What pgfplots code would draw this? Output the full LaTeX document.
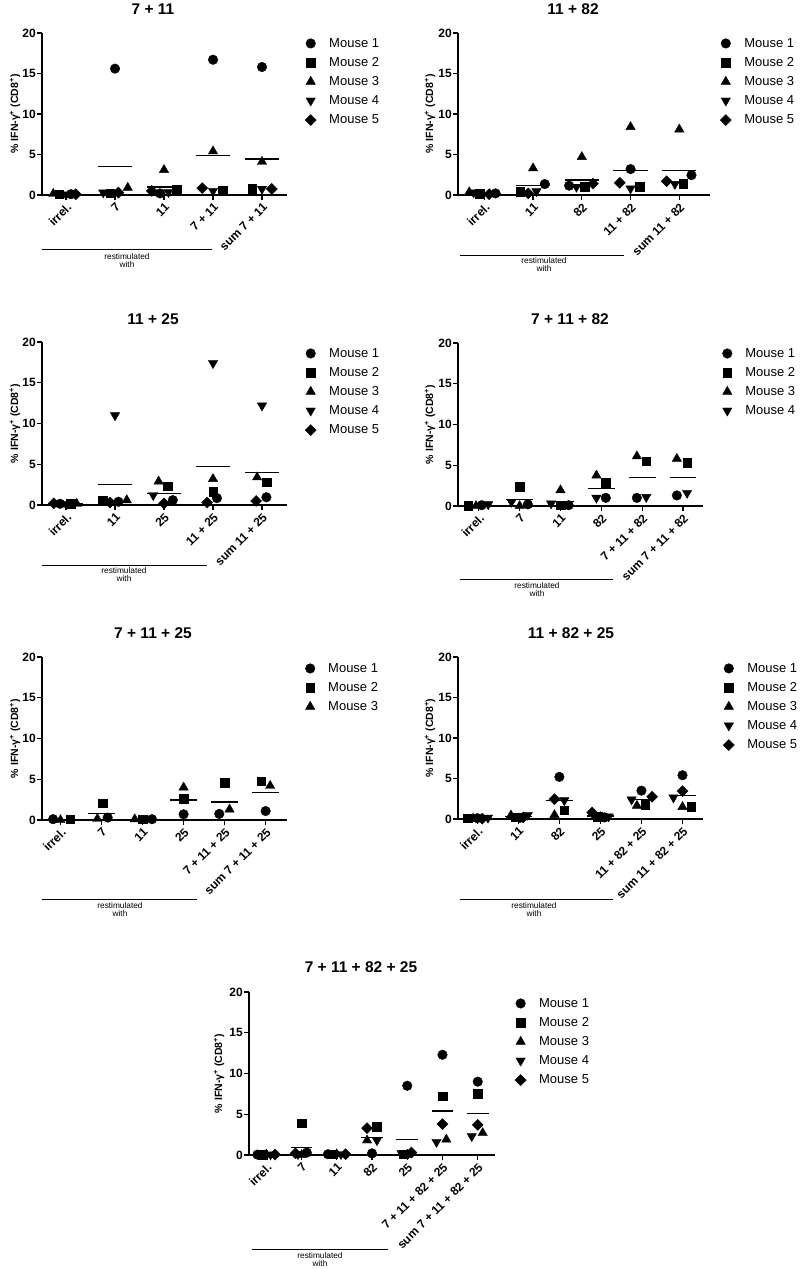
\documentclass[border=0pt]{standalone}
\usepackage{fontspec}
\setmainfont{Liberation Sans}
\usepackage{pgfplots}
\pgfplotsset{compat=1.18}
\newcommand{\tickfont}{\fontsize{12}{12}\selectfont\bfseries}
\newcommand{\titlefont}{\fontsize{15.5}{16}\selectfont\bfseries}
\newcommand{\ylabfont}{\fontsize{10.5}{11}\selectfont\bfseries}
\newcommand{\restfont}{\fontsize{8.3}{8.3}\selectfont}
\newcommand{\ylab}{\% IFN-γ\textsuperscript{+} (CD8\textsuperscript{+})}
\pgfplotsset{
  panel/.style={
    scale only axis, anchor=south west, clip=false,
    ymin=0, ymax=20, ytick={0,5,10,15,20},
    axis x line*=bottom, axis y line*=left,
    axis line style={line width=1.6pt},
    every tick/.style={black, line width=1.3pt},
    major tick length=5pt, tick align=outside,
    /pgf/number format/assume math mode=true,
    tick label style={font=\tickfont},
    yticklabel style={inner xsep=1pt},
    xticklabel style={rotate=45, anchor=north east, inner sep=1.5pt},
    legend style={draw=none, fill=none, font=\fontsize{13}{13}\selectfont,
      anchor=north west, inner sep=0pt, row sep=8.5pt,
      nodes={inner sep=0pt},
      /tikz/every odd column/.append style={column sep=13pt}},
    legend cell align=left,
    legend image code/.code={\path[draw=none,fill=none] (-5pt,-5pt) rectangle (5pt,5pt);
      \draw[##1] plot coordinates {(0pt,0pt)};},
  },
  m1/.style={only marks, black, mark=*, mark size=4.8pt},
  m2/.style={only marks, black, mark=square*, mark size=4.3pt},
  m3/.style={only marks, black, mark=triangle*, mark size=5.4pt},
  m4/.style={only marks, black, mark=triangle*, mark size=5.4pt, mark options={rotate=180}},
  m5/.style={only marks, black, mark=square*, mark size=3.9pt, mark options={rotate=45}},
  mean/.style={black, line width=1.2pt, mark=none, unbounded coords=jump, forget plot},
}
\begin{document}
\begin{tikzpicture}
\path[use as bounding box] (0pt,0pt) rectangle (800pt,-1269pt);

% ---------- Panel 1: 7 + 11
\node[font=\titlefont] at (153pt,-9pt) {7 + 11};
\node[font=\ylabfont, rotate=90] at (15pt,-114pt) {\ylab};
\begin{axis}[panel, at={(42pt,-195pt)}, width=245pt, height=162pt,
  xmin=-0.49, xmax=4.51, xtick={0,...,4},
  xticklabels={irrel., 7, 11, 7 + 11, sum 7 + 11},
  legend style={at={(axis description cs:1.0735,0.969)}}]
\addplot[m1] coordinates {(0.10,0.1) (1.00,15.6) (1.92,0.2) (3.00,16.7) (4.00,15.8)};
\addplot[m2] coordinates {(-0.14,0.1) (0.90,0.2) (2.26,0.65) (3.20,0.55) (3.80,0.8)};
\addplot[m3] coordinates {(-0.26,0.15) (1.26,0.9) (2.00,3.1) (3.00,5.4) (4.00,4.1)};
\addplot[m4] coordinates {(0.00,0.05) (0.76,0.3) (2.09,0.35) (3.00,0.5) (4.00,0.75)};
\addplot[m5] coordinates {(0.20,0.1) (1.07,0.3) (1.75,0.5) (2.78,0.85) (4.20,0.75)};
\addplot[mean] coordinates {(-0.35,0.1) (0.35,0.1) (0.5,nan) (0.65,3.5) (1.35,3.5) (1.5,nan)
  (1.65,1.0) (2.35,1.0) (2.5,nan) (2.65,4.85) (3.35,4.85) (3.5,nan) (3.65,4.45) (4.35,4.45)};
\legend{Mouse 1, Mouse 2, Mouse 3, Mouse 4, Mouse 5}
\end{axis}
\draw[line width=0.8pt] (42pt,-249.5pt) -- (212pt,-249.5pt);
\node[font=\restfont] at (127pt,-256.5pt) {restimulated};
\node[font=\restfont] at (127pt,-264.5pt) {with};

% ---------- Panel 2: 11 + 82
\node[font=\titlefont] at (573pt,-9pt) {11 + 82};
\node[font=\ylabfont, rotate=90] at (430pt,-114pt) {\ylab};
\begin{axis}[panel, at={(458pt,-195pt)}, width=252pt, height=162pt,
  xmin=-0.54, xmax=4.63, xtick={0,...,4},
  xticklabels={irrel., 11, 82, 11 + 82, sum 11 + 82},
  legend style={at={(axis description cs:1.040,0.969)}}]
\addplot[m1] coordinates {(0.23,0.2) (1.24,1.35) (1.74,1.15) (3.00,3.2) (4.25,2.45)};
\addplot[m2] coordinates {(-0.10,0.15) (0.74,0.4) (2.06,1.0) (3.19,1.05) (4.08,1.4)};
\addplot[m3] coordinates {(-0.31,0.35) (1.00,3.3) (2.00,4.7) (3.00,8.4) (4.00,8.1)};
\addplot[m4] coordinates {(-0.22,0.3) (1.07,0.45) (1.89,1.0) (3.00,0.8) (3.91,1.35)};
\addplot[m5] coordinates {(0.10,0.1) (0.90,0.2) (2.23,1.4) (2.78,1.5) (3.74,1.7)};
\addplot[mean] coordinates {(-0.35,0.2) (0.35,0.2) (0.5,nan) (0.65,1.2) (1.35,1.2) (1.5,nan)
  (1.65,1.85) (2.35,1.85) (2.5,nan) (2.65,3.0) (3.35,3.0) (3.5,nan) (3.65,3.05) (4.35,3.05)};
\legend{Mouse 1, Mouse 2, Mouse 3, Mouse 4, Mouse 5}
\end{axis}
\draw[line width=0.8pt] (460pt,-255pt) -- (624pt,-255pt);
\node[font=\restfont] at (544pt,-261pt) {restimulated};
\node[font=\restfont] at (544pt,-269pt) {with};

% ---------- Panel 3: 11 + 25
\node[font=\titlefont] at (153pt,-319pt) {11 + 25};
\node[font=\ylabfont, rotate=90] at (15pt,-423.5pt) {\ylab};
\begin{axis}[panel, at={(42pt,-505pt)}, width=245pt, height=163pt,
  xmin=-0.49, xmax=4.51, xtick={0,...,4},
  xticklabels={irrel., 11, 25, 11 + 25, sum 11 + 25},
  legend style={at={(axis description cs:1.0735,0.963)}}]
\addplot[m1] coordinates {(-0.12,0.15) (1.07,0.4) (2.18,0.6) (3.08,0.85) (4.09,0.95)};
\addplot[m2] coordinates {(0.10,0.15) (0.75,0.5) (2.08,2.3) (3.00,1.6) (4.09,2.8)};
\addplot[m3] coordinates {(0.22,0.15) (1.24,0.6) (1.89,2.9) (3.00,3.2) (3.90,3.4)};
\addplot[m4] coordinates {(0.00,0.1) (1.00,11.0) (1.78,1.2) (3.00,17.4) (4.00,12.2)};
\addplot[m5] coordinates {(-0.25,0.2) (0.90,0.3) (2.00,0.2) (2.88,0.3) (3.88,0.5)};
\addplot[mean] coordinates {(-0.35,0.15) (0.35,0.15) (0.5,nan) (0.65,2.55) (1.35,2.55) (1.5,nan)
  (1.65,1.45) (2.35,1.45) (2.5,nan) (2.65,4.7) (3.35,4.7) (3.5,nan) (3.65,4.0) (4.35,4.0)};
\legend{Mouse 1, Mouse 2, Mouse 3, Mouse 4, Mouse 5}
\end{axis}
\draw[line width=0.8pt] (42pt,-565pt) -- (207pt,-565pt);
\node[font=\restfont] at (124pt,-571pt) {restimulated};
\node[font=\restfont] at (124pt,-579pt) {with};

% ---------- Panel 4: 7 + 11 + 82
\node[font=\titlefont] at (570pt,-319pt) {7 + 11 + 82};
\node[font=\ylabfont, rotate=90] at (430pt,-424.5pt) {\ylab};
\begin{axis}[panel, at={(458pt,-506pt)}, width=245pt, height=163pt,
  xmin=-0.51, xmax=5.49, xtick={0,...,5},
  xticklabels={irrel., 7, 11, 82, 7 + 11 + 82, sum 7 + 11 + 82},
  legend style={at={(axis description cs:1.078,0.969)}}]
\addplot[m1] coordinates {(0.07,0.1) (1.20,0.2) (2.20,0.1) (3.11,1.0) (3.87,1.0) (4.85,1.3)};
\addplot[m2] coordinates {(-0.26,0.05) (1.00,2.35) (2.00,0.1) (3.11,2.85) (4.10,5.5) (5.10,5.3)};
\addplot[m3] coordinates {(-0.07,0.0) (1.00,0.0) (2.00,1.95) (2.88,3.75) (3.87,6.1) (4.85,5.8)};
\addplot[m4] coordinates {(0.23,0.2) (0.80,0.5) (1.77,0.3) (2.88,1.0) (4.10,1.1) (5.10,1.6)};
\addplot[mean] coordinates {(-0.33,0.1) (0.33,0.1) (0.5,nan) (0.67,0.8) (1.33,0.8) (1.5,nan)
  (1.67,0.6) (2.33,0.6) (2.5,nan) (2.67,2.15) (3.33,2.15) (3.5,nan) (3.67,3.45) (4.33,3.45) (4.5,nan)
  (4.67,3.5) (5.33,3.5)};
\legend{Mouse 1, Mouse 2, Mouse 3, Mouse 4}
\end{axis}
\draw[line width=0.8pt] (460pt,-579pt) -- (613pt,-579pt);
\node[font=\restfont] at (537pt,-585.5pt) {restimulated};
\node[font=\restfont] at (537pt,-593.5pt) {with};

% ---------- Panel 5: 7 + 11 + 25
\node[font=\titlefont] at (153pt,-633pt) {7 + 11 + 25};
\node[font=\ylabfont, rotate=90] at (15pt,-738.5pt) {\ylab};
\begin{axis}[panel, at={(42pt,-820pt)}, width=245pt, height=163pt,
  xmin=-0.45, xmax=5.52, xtick={0,...,5},
  xticklabels={irrel., 7, 11, 25, 7 + 11 + 25, sum 7 + 11 + 25},
  legend style={at={(axis description cs:1.0735,0.963)}}]
\addplot[m1] coordinates {(-0.18,0.1) (1.15,0.3) (2.23,0.1) (3.00,0.7) (3.87,0.75) (5.00,1.1)};
\addplot[m2] coordinates {(0.24,0.1) (1.03,2.05) (2.00,0.1) (3.00,2.6) (4.00,4.6) (4.89,4.75)};
\addplot[m3] coordinates {(0.00,0.0) (0.90,0.15) (1.81,0.1) (3.00,4.0) (4.12,1.3) (5.11,4.2)};
\addplot[mean] coordinates {(-0.33,0.07) (0.33,0.07) (0.5,nan) (0.67,0.83) (1.33,0.83) (1.5,nan)
  (1.67,0.1) (2.33,0.1) (2.5,nan) (2.67,2.45) (3.33,2.45) (3.5,nan) (3.67,2.2) (4.33,2.2) (4.5,nan)
  (4.67,3.35) (5.33,3.35)};
\legend{Mouse 1, Mouse 2, Mouse 3}
\end{axis}
\draw[line width=0.8pt] (42pt,-899pt) -- (197pt,-899pt);
\node[font=\restfont] at (120pt,-906pt) {restimulated};
\node[font=\restfont] at (120pt,-914pt) {with};

% ---------- Panel 6: 11 + 82 + 25
\node[font=\titlefont] at (571pt,-633pt) {11 + 82 + 25};
\node[font=\ylabfont, rotate=90] at (430pt,-738pt) {\ylab};
\begin{axis}[panel, at={(458pt,-819pt)}, width=245pt, height=162pt,
  xmin=-0.47, xmax=5.5, xtick={0,...,5},
  xticklabels={irrel., 11, 82, 25, 11 + 82 + 25, sum 11 + 82 + 25},
  legend style={at={(axis description cs:1.082,0.963)}}]
\addplot[m1] coordinates {(0.00,0.1) (1.04,0.15) (2.00,5.2) (3.10,0.2) (4.00,3.5) (5.00,5.4)};
\addplot[m2] coordinates {(-0.23,0.1) (0.94,0.2) (2.12,1.1) (2.93,0.3) (4.09,1.8) (5.21,1.5)};
\addplot[m3] coordinates {(-0.10,0.05) (0.82,0.45) (1.88,0.5) (3.00,0.25) (3.89,1.65) (5.00,1.5)};
\addplot[m4] coordinates {(0.26,0.15) (1.23,0.5) (2.12,2.3) (3.20,0.3) (3.76,2.4) (4.78,2.65)};
\addplot[m5] coordinates {(0.12,0.05) (1.12,0.2) (1.88,2.45) (2.80,0.8) (4.26,2.75) (5.00,3.45)};
\addplot[mean] coordinates {(-0.33,0.1) (0.33,0.1) (0.5,nan) (0.67,0.3) (1.33,0.3) (1.5,nan)
  (1.67,2.3) (2.33,2.3) (2.5,nan) (2.67,0.37) (3.33,0.37) (3.5,nan) (3.67,2.45) (4.33,2.45) (4.5,nan)
  (4.67,2.92) (5.33,2.92)};
\legend{Mouse 1, Mouse 2, Mouse 3, Mouse 4, Mouse 5}
\end{axis}
\draw[line width=0.8pt] (460pt,-899pt) -- (613pt,-899pt);
\node[font=\restfont] at (534pt,-905.5pt) {restimulated};
\node[font=\restfont] at (534pt,-913.5pt) {with};

% ---------- Panel 7: 7 + 11 + 82 + 25
\node[font=\titlefont] at (361pt,-967pt) {7 + 11 + 82 + 25};
\node[font=\ylabfont, rotate=90] at (219pt,-1073.5pt) {\ylab};
\begin{axis}[panel, at={(249pt,-1155pt)}, width=246pt, height=163pt,
  xmin=-0.49, xmax=6.49, xtick={0,...,6},
  xticklabels={irrel., 7, 11, 82, 25, 7 + 11 + 82 + 25, sum 7 + 11 + 82 + 25},
  legend style={at={(axis description cs:1.081,0.963)}}]
\addplot[m1] coordinates {(-0.25,0.05) (1.15,0.3) (1.75,0.1) (3.00,0.2) (4.00,8.5) (5.00,12.3) (6.00,9.0)};
\addplot[m2] coordinates {(-0.10,0.05) (1.00,3.9) (1.90,0.1) (3.14,3.5) (3.90,0.1) (5.00,7.2) (6.00,7.5)};
\addplot[m3] coordinates {(0.00,0.05) (1.00,0.0) (2.00,0.1) (2.86,1.8) (4.00,0.05) (5.11,1.9) (6.14,2.7)};
\addplot[m4] coordinates {(0.12,0.05) (0.90,0.1) (2.12,0.1) (3.14,1.8) (3.84,0.2) (4.83,1.6) (5.83,2.3)};
\addplot[m5] coordinates {(0.25,0.05) (0.83,0.2) (2.25,0.1) (2.86,3.3) (4.12,0.3) (5.00,3.8) (6.00,3.7)};
\addplot[mean] coordinates {(-0.31,0.05) (0.31,0.05) (0.5,nan) (0.69,0.95) (1.31,0.95) (1.5,nan)
  (1.69,0.1) (2.31,0.1) (2.5,nan) (2.69,2.15) (3.31,2.15) (3.5,nan) (3.69,1.9) (4.31,1.9) (4.5,nan)
  (4.69,5.4) (5.31,5.4) (5.5,nan) (5.69,5.05) (6.31,5.05)};
\legend{Mouse 1, Mouse 2, Mouse 3, Mouse 4, Mouse 5}
\end{axis}
\draw[line width=0.8pt] (252pt,-1249.5pt) -- (388pt,-1249.5pt);
\node[font=\restfont] at (320pt,-1256pt) {restimulated};
\node[font=\restfont] at (320pt,-1264pt) {with};
\end{tikzpicture}
\end{document}
